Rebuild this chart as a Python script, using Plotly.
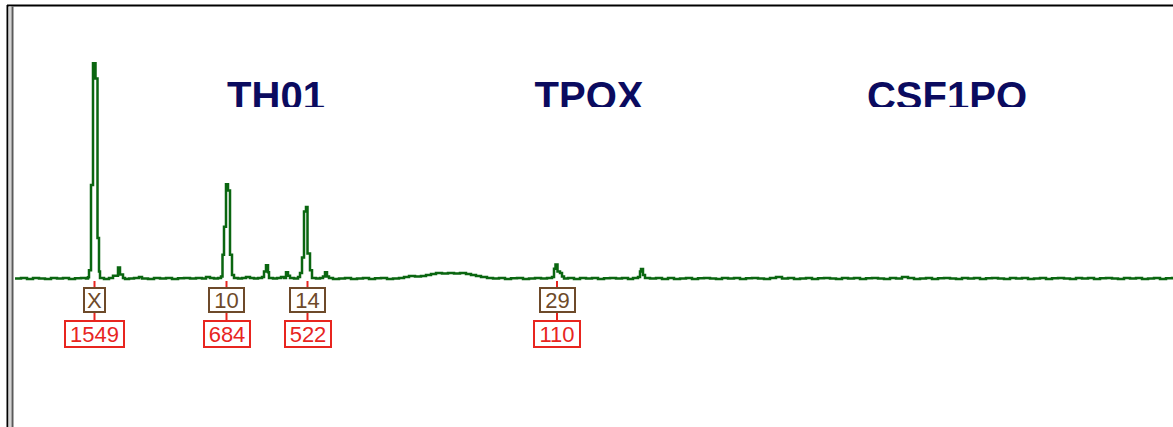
import plotly.graph_objects as go

# Green dye channel: scan position vs. signal (RFU)
scan = [
    0, 6, 12, 18, 24, 30, 36, 42, 48, 54, 60, 66, 71, 73, 74, 76, 78, 80.5, 82.5, 84,
    85, 89, 94, 98, 103, 105, 108, 110, 114, 119, 124, 127, 133, 139, 145, 151, 157, 163, 169, 175, 181,
    187, 191, 195, 199, 203, 206, 207.5, 209, 211, 213, 215, 217, 219, 223, 227, 231, 235, 239, 243, 247,
    249, 251, 253, 254, 258, 262, 266, 269, 271, 273, 275, 279, 283, 285, 287, 289, 291, 292.5, 295, 297,
    301, 305, 308, 310, 312, 314, 318, 324, 330, 336, 342, 348, 354, 360, 366, 372, 378, 384, 389, 394,
    400, 406, 411, 416, 421, 427, 433, 439, 445, 451, 456, 461, 466, 472, 478, 484, 490, 496, 502, 508,
    514, 520, 526, 532, 537, 539, 540.5, 542.5, 545, 547, 549, 553, 559, 565, 571, 577, 583, 589, 595, 601,
    607, 613, 618, 623, 625, 626, 628, 630, 635, 641, 647,
    653, 659, 665, 671, 677, 683, 689, 695, 701, 707, 713, 719, 725, 731, 737, 743, 749, 755, 761, 767,
    773, 779, 785, 791, 797, 803, 809, 815, 821, 827, 833, 839, 845, 851, 857, 863, 869, 875, 881, 887,
    893, 899, 905, 911, 917, 923, 929, 935, 941, 947, 953, 959, 965, 971, 977, 983, 989, 995, 1001, 1007,
    1013, 1019, 1025, 1031, 1037, 1043, 1049, 1055, 1061, 1067, 1073, 1079, 1085, 1091, 1097, 1103, 1109, 1115, 1121, 1127,
    1133, 1139, 1145, 1151, 1157, 1158,
]
rfu = [
    10, 14, 7, 14, 10, 7, 14, 10, 14, 7, 12, 14, 10, 20, 70, 680, 1549, 1440, 300, 60,
    14, 7, 14, 30, 90, 40, 14, 7, 10, 14, 21, 10, 7, 14, 10, 14, 7, 12, 14, 10, 14,
    10, 21, 14, 10, 14, 25, 180, 380, 684, 640, 180, 35, 14, 10, 14, 21, 14, 10, 14, 21,
    60, 105, 55, 14, 10, 14, 21, 14, 55, 30, 14, 10, 21, 50, 160, 490, 522, 190, 70, 14,
    10, 14, 25, 55, 25, 14, 7, 10, 14, 7, 10, 14, 7, 12, 14, 7, 10, 14, 21, 29,
    25, 29, 36, 43, 50, 46, 50, 46, 50, 43, 36, 29, 21, 14, 10, 14, 7, 12, 14, 7,
    10, 14, 10, 14, 21, 80, 110, 60, 50, 25, 10, 14, 7, 14, 10, 14, 7, 12, 14, 10,
    14, 7, 14, 21, 60, 79, 35, 14, 10, 14, 7,
    14, 7, 10, 14, 7, 12, 14, 10, 7, 14, 10, 14, 7, 12, 14, 10, 7, 14, 21, 10,
    14, 7, 10, 14, 7, 12, 14, 10, 7, 14, 10, 14, 7, 12, 14, 10, 7, 14, 10, 21,
    14, 7, 10, 14, 7, 12, 14, 10, 7, 14, 10, 14, 7, 12, 14, 10, 7, 14, 10, 14,
    7, 10, 14, 7, 12, 14, 10, 7, 14, 10, 14, 7, 12, 14, 10, 7, 14, 10, 14, 7,
    10, 14, 7, 12, 14, 10,
]

# Called alleles: position, allele name, peak height
allele_scan = [79.5, 211.5, 292.5, 542]
allele_names = ["X", "10", "14", "29"]
allele_heights = [1549, 684, 522, 110]

# Locus markers across the panel
locus_names = ["TH01", "TPOX", "CSF1PO"]
locus_scan = [261, 574, 932]

W, H = 1173, 427
LEFT = 15
PX_PER_RFU = 1 / 7.15
BASE_PX = 280  # pixel row of the 0 RFU baseline

GREEN = "#0a6610"
BROWN = "#6e4a2a"
RED = "#e8251f"
NAVY = "#0b0b5f"
LABEL_FONT = "Liberation Sans, Arial, sans-serif"

fig = go.Figure()

fig.add_trace(go.Scatter(
    x=scan, y=rfu, mode="lines", line=dict(color=GREEN, width=2.5, shape="hv"),
    hoverinfo="skip", showlegend=False,
))

# Locus names, clipped at the bottom by their own strip
fig.add_trace(go.Scatter(
    x=locus_scan, y=[0.065] * len(locus_scan), mode="text", text=locus_names,
    textposition="middle center", cliponaxis=True,
    textfont=dict(family=LABEL_FONT, size=40, color=NAVY, weight="bold"),
    xaxis="x", yaxis="y2", hoverinfo="skip", showlegend=False,
))

annotations = []
shapes = []
for xs, name, h in zip(allele_scan, allele_names, allele_heights):
    annotations.append(dict(
        x=xs, y=0, xref="x", yref="y", text=name, showarrow=False,
        xanchor="center", yanchor="middle", yshift=-20,
        width=5 + 14 * len(name), height=22,
        font=dict(family=LABEL_FONT, size=22, color=BROWN),
        bordercolor=BROWN, borderwidth=2, borderpad=0, bgcolor="white",
    ))
    annotations.append(dict(
        x=xs, y=0, xref="x", yref="y", text=str(h), showarrow=False,
        xanchor="center", yanchor="middle", yshift=-54,
        width=5 + 13 * len(str(h)), height=24,
        font=dict(family=LABEL_FONT, size=22, color=RED),
        bordercolor=RED, borderwidth=2, borderpad=0, bgcolor="white",
    ))
    for y0, y1 in [(-1, -7), (-33, -40)]:
        shapes.append(dict(
            type="line", xref="x", yref="y", ysizemode="pixel", yanchor=0,
            x0=xs, x1=xs, y0=y0, y1=y1, line=dict(color=RED, width=2),
        ))

# Frame: top rule and double left rule
shapes += [
    dict(type="line", xref="paper", yref="paper", xsizemode="pixel", xanchor=0,
         ysizemode="pixel", yanchor=1, x0=-8, x1=W, y0=-5.5, y1=-5.5,
         line=dict(color="black", width=2)),
    dict(type="line", xref="paper", yref="paper", xsizemode="pixel", xanchor=0,
         ysizemode="pixel", yanchor=1, x0=-7.5, x1=-7.5, y0=-5, y1=-H,
         line=dict(color="black", width=2)),
    dict(type="rect", xref="paper", yref="paper", xsizemode="pixel", xanchor=0,
         ysizemode="pixel", yanchor=1, x0=-6.5, x1=-3.5, y0=-6.5, y1=-H,
         fillcolor="#d4d4d4", line=dict(width=0)),
    dict(type="line", xref="paper", yref="paper", xsizemode="pixel", xanchor=0,
         ysizemode="pixel", yanchor=1, x0=-2.5, x1=-2.5, y0=-6.5, y1=-H,
         line=dict(color="#5a5a5a", width=2)),
]

y_top = BASE_PX / PX_PER_RFU
y_bot = -(H - BASE_PX) / PX_PER_RFU
strip = 107 / H

fig.update_layout(
    width=W, height=H,
    margin=dict(l=LEFT, r=0, t=0, b=0),
    paper_bgcolor="white", plot_bgcolor="rgba(0,0,0,0)",
    xaxis=dict(range=[0, W - LEFT], visible=False, fixedrange=True),
    yaxis=dict(range=[y_bot, y_top], visible=False, fixedrange=True, domain=[0, 1]),
    yaxis2=dict(range=[0, 1], visible=False, fixedrange=True,
                domain=[1 - strip, 1], anchor="x"),
    annotations=annotations,
    shapes=shapes,
    showlegend=False,
)

fig.write_html("out.html")
